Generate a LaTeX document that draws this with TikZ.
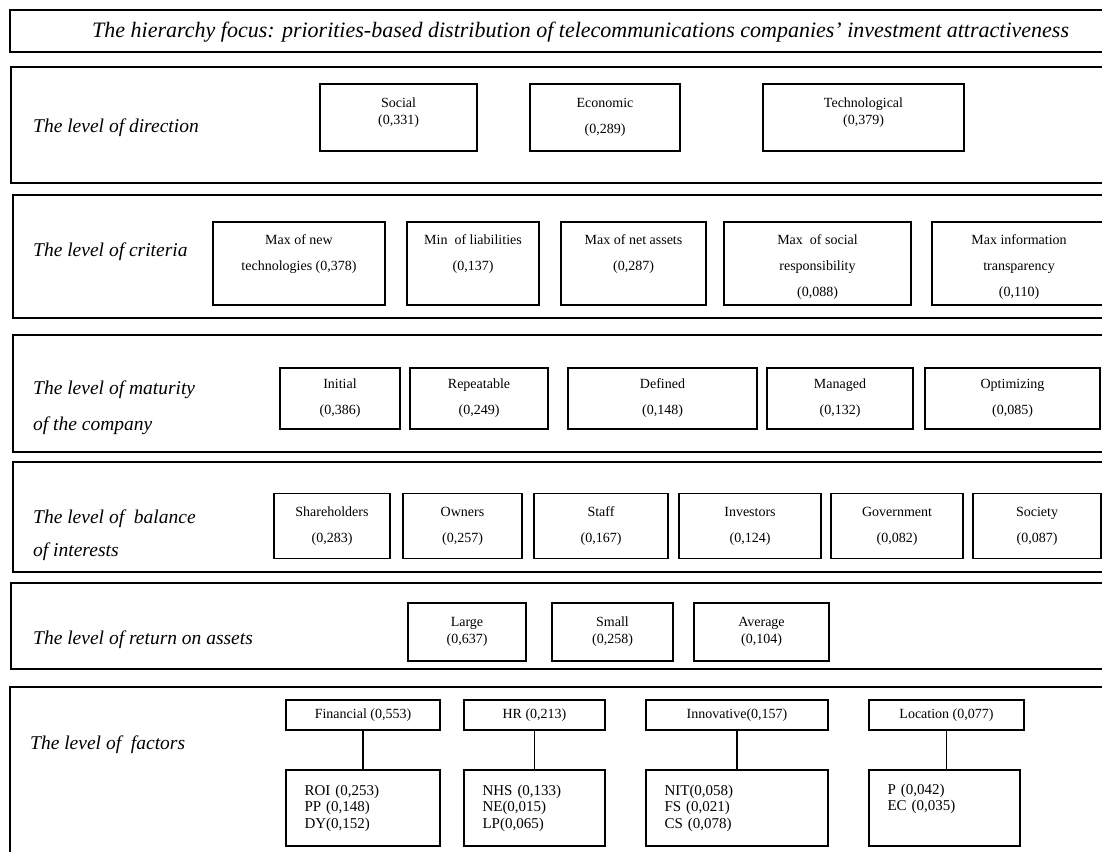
\documentclass[tikz,border=0pt]{standalone}
\usepackage{fontspec}
\setmainfont{Liberation Serif}

\begin{document}
\begin{tikzpicture}[x=1pt,y=-1pt,
    frame/.style={line width=1.6pt},
    lvl/.style={anchor=west,inner sep=0pt,align=left,font=\fontsize{19.5}{36}\selectfont\itshape},
    box/.style={draw,line width=1.4pt,inner sep=0pt,align=center,font=\fontsize{14}{17}\selectfont},
    tallbox/.style={box,font=\fontsize{14}{26}\selectfont},
    critbox/.style={tallbox,minimum height=83pt,text depth=5pt,text height=19pt},
    listbox/.style={box,align=left,inner xsep=18.5pt,minimum height=76pt,font=\fontsize{15}{16.5}\selectfont}]
    \useasboundingbox (0,0) rectangle (1102,851);
    \clip (0,0) rectangle (1102,851);
    % level frames
    \draw[frame] (10,10) rectangle (1112,52);
    \draw[frame] (11,67) rectangle (1112,183);
    \draw[frame] (13,195) rectangle (1112,318);
    \draw[frame] (13,335) rectangle (1112,452);
    \draw[frame] (13,462) rectangle (1112,572);
    \draw[frame] (11,583) rectangle (1112,669);
    \draw[frame] (10,687) rectangle (1112,870);
    \node[anchor=west,inner sep=0pt,font=\fontsize{22}{26}\selectfont\itshape] (focus) at (92,32) {The hierarchy focus: priorities-based distribution of telecommunications companies' investment attractiveness};
    % directions
    \node[lvl] (ldir) at (33,128) {The level of direction};
    \node[box,minimum width=157pt,minimum height=67pt] (soc) at (398.5,117.5) {Social\\(0,331)\\[-10pt]\strut};
    \node[box,minimum width=150pt,minimum height=67pt] (eco) at (605,117.5) {Economic\\[9pt](0,289)};
    \node[box,minimum width=201pt,minimum height=67pt] (tech) at (863.5,117.5) {Technological\\(0,379)\\[-10pt]\strut};
    % criteria
    \node[lvl] (lcrit) at (33,252) {The level of criteria};
    \node[critbox,minimum width=172pt] (newtech) at (299,263.5) {Max of new\\technologies (0,378)};
    \node[critbox,minimum width=132pt] (liab) at (473,263.5) {Min\ \ of liabilities\\(0,137)};
    \node[critbox,minimum width=145pt] (assets) at (633.5,263.5) {Max of net assets\\(0,287)};
    \node[critbox,minimum width=187pt,text height=71pt] (resp) at (817.5,263.5) {Max\ \ of social\\responsibility\\(0,088)};
    \node[critbox,minimum width=174pt,text height=71pt] (transp) at (1019,263.5) {Max information\\transparency\\(0,110)};
    % maturity
    \node[lvl] (lmat) at (33,408) {The level of maturity\\of the company};
    \node[tallbox,minimum width=120pt,minimum height=61pt] (init) at (340,398.5) {Initial\\(0,386)};
    \node[tallbox,minimum width=138pt,minimum height=61pt] (rep) at (479,398.5) {Repeatable\\(0,249)};
    \node[tallbox,minimum width=189pt,minimum height=61pt] (def) at (662.5,398.5) {Defined\\(0,148)};
    \node[tallbox,minimum width=146pt,minimum height=61pt] (man) at (840,398.5) {Managed\\(0,132)};
    \node[tallbox,minimum width=175pt,minimum height=61pt] (opt) at (1012.5,398.5) {Optimizing\\(0,085)};
    % balance of interests
    \node[lvl] (lbal) at (33,535) {The level of\ \ balance\\[-3pt]of interests};
    \node[tallbox,minimum width=116pt,minimum height=65pt] (share) at (332,526) {Shareholders\\(0,283)};
    \node[tallbox,minimum width=119pt,minimum height=65pt] (own) at (462.5,526) {Owners\\(0,257)};
    \node[tallbox,minimum width=134pt,minimum height=65pt] (staff) at (601,526) {Staff\\(0,167)};
    \node[tallbox,minimum width=142pt,minimum height=65pt] (inv) at (750,526) {Investors\\(0,124)};
    \node[tallbox,minimum width=132pt,minimum height=65pt] (gov) at (897,526) {Government\\(0,082)};
    \node[tallbox,minimum width=128pt,minimum height=65pt] (soct) at (1037,526) {Society\\(0,087)};
    % return on assets
    \node[lvl] (lret) at (33,640) {The level of return on assets};
    \node[box,minimum width=118pt,minimum height=58pt] (large) at (467,632) {Large\\(0,637)};
    \node[box,minimum width=121pt,minimum height=58pt] (small) at (612.5,632) {Small\\(0,258)};
    \node[box,minimum width=135pt,minimum height=58pt] (avg) at (761.5,632) {Average\\(0,104)};
    % factors
    \node[lvl] (lfac) at (30,745) {The level of\ \ factors};
    \node[box,minimum width=154pt,minimum height=30pt] (fin) at (363,715) {Financial (0,553)};
    \node[box,minimum width=141pt,minimum height=30pt] (hr) at (534.5,715) {HR (0,213)};
    \node[box,minimum width=182pt,minimum height=30pt] (inn) at (737,715) {Innovative(0,157)};
    \node[box,minimum width=155pt,minimum height=30pt] (loc) at (946.5,715) {Location (0,077)};
    \node[listbox,text width=117pt] (roi) at (363,808) {ROI (0,253)\\PP (0,148)\\DY(0,152)};
    \node[listbox,text width=104pt] (nhs) at (534.5,808) {NHS (0,133)\\NE(0,015)\\LP(0,065)};
    \node[listbox,text width=145pt] (nit) at (737,808) {NIT(0,058)\\FS (0,021)\\CS (0,078)};
    \node[listbox,text width=114pt] (pec) at (944.5,808) {P (0,042)\\EC (0,035)\\\strut};
    \draw[line width=1.4pt] (fin.south) -- (fin.south |- roi.north);
    \draw[line width=1.4pt] (hr.south) -- (hr.south |- nhs.north);
    \draw[line width=1.4pt] (inn.south) -- (inn.south |- nit.north);
    \draw[line width=1.4pt] (loc.south) -- (loc.south |- pec.north);
\end{tikzpicture}
\end{document}
